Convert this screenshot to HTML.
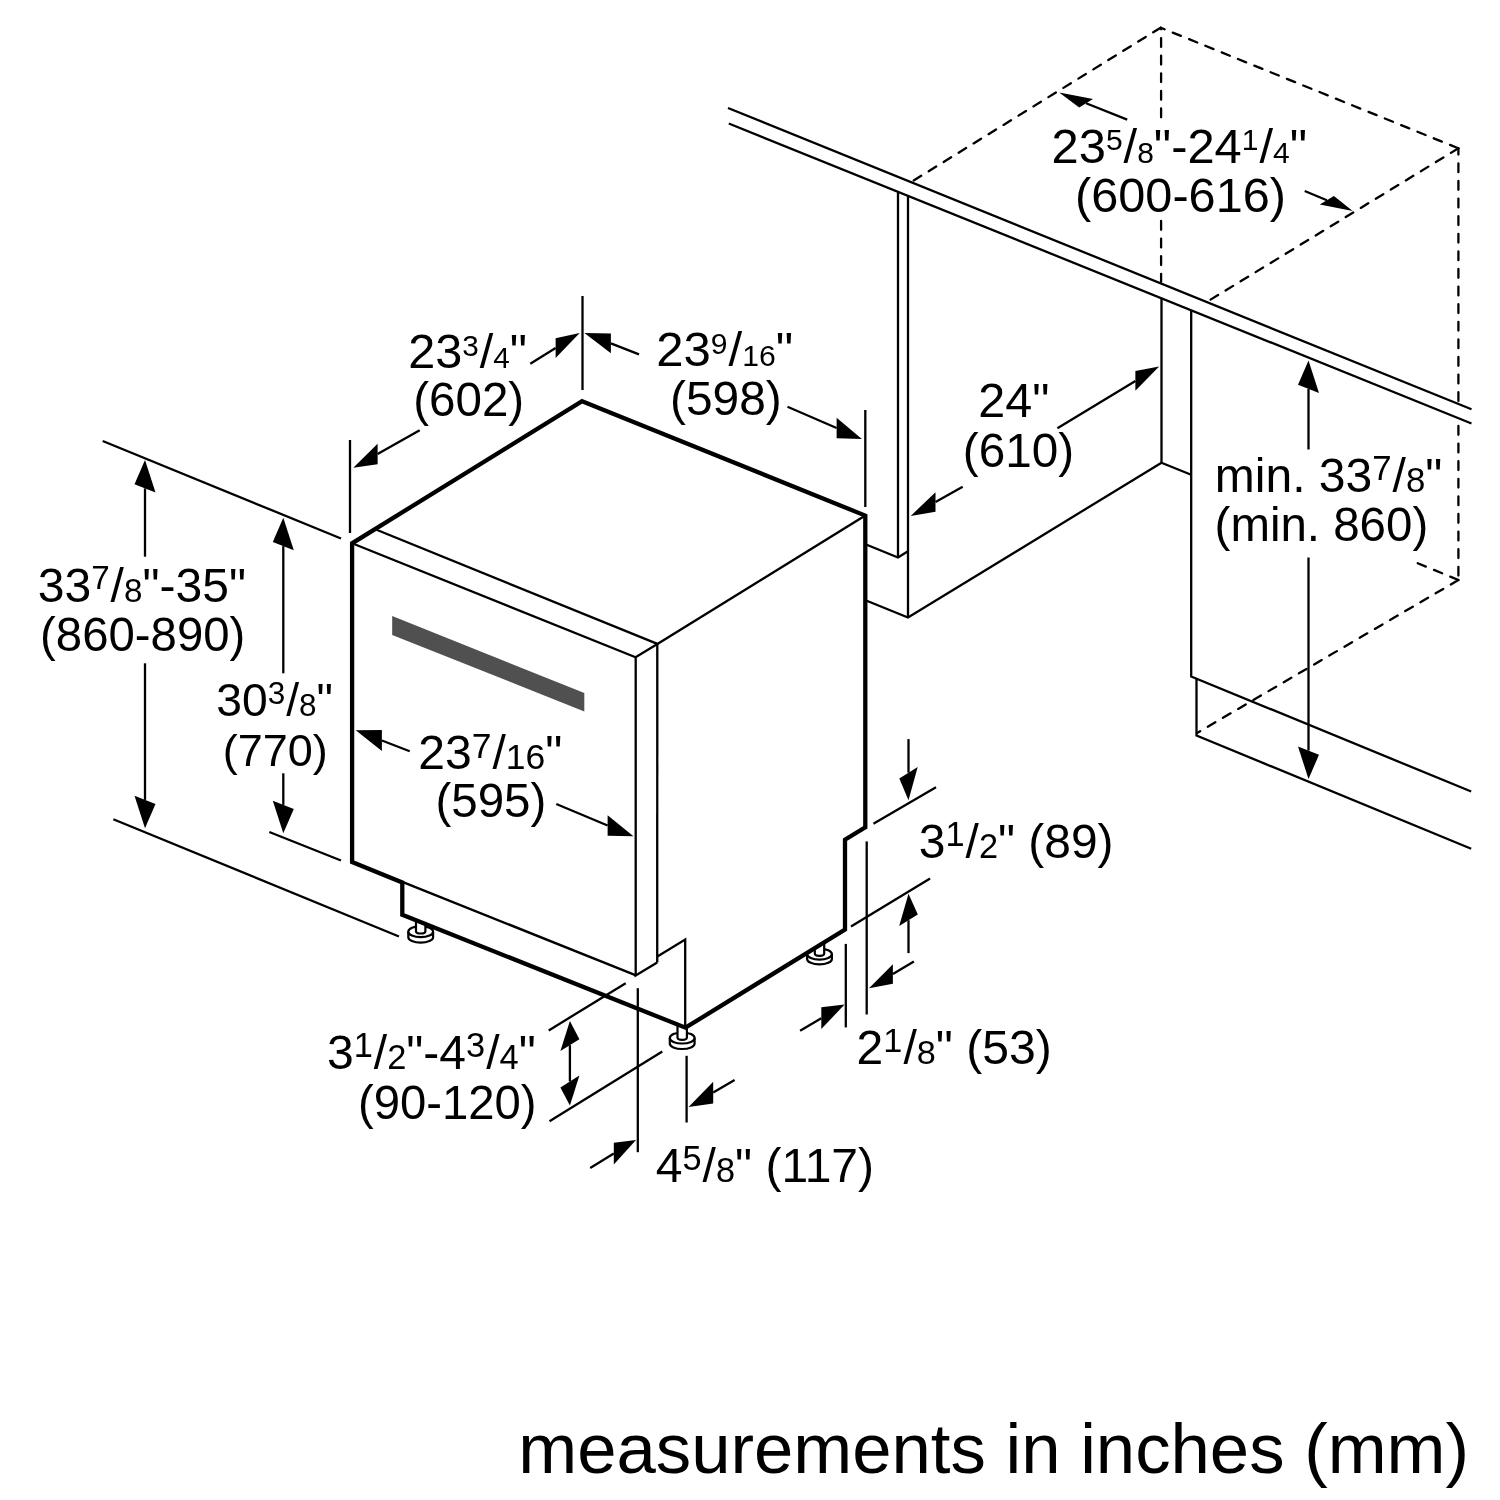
<!DOCTYPE html>
<html lang="en">
<head>
<meta charset="utf-8">
<title>Dishwasher installation dimensions</title>
<style>
html,body{margin:0;padding:0;background:#fff;}
body{width:1500px;height:1500px;overflow:hidden;font-family:"Liberation Sans",sans-serif;}
svg{display:block;will-change:transform;}
</style>
</head>
<body>
<svg width="1500" height="1500" viewBox="0 0 1500 1500">
<rect width="1500" height="1500" fill="#fff"/>
<g fill="none" stroke="#000">
<path d="M408.3 931.7 v5.5 a12.4 5.5 0 0 0 24.8 0 v-5.5" fill="#fff" stroke-width="2.2"/>
<ellipse cx="420.7" cy="931.7" rx="12.4" ry="5.5" fill="#fff" stroke-width="2.2"/>
<path d="M416.0 917.7 v13.5 a4.7 2.3 0 0 0 9.4 0 v-13.5 z" fill="#fff" stroke-width="2.2"/>
<path d="M669.8 1038.0 v5.5 a12.4 5.5 0 0 0 24.8 0 v-5.5" fill="#fff" stroke-width="2.2"/>
<ellipse cx="682.2" cy="1038.0" rx="12.4" ry="5.5" fill="#fff" stroke-width="2.2"/>
<path d="M677.5 1024.0 v13.5 a4.7 2.3 0 0 0 9.4 0 v-13.5 z" fill="#fff" stroke-width="2.2"/>
<path d="M807.1 954.1 v4.8 a12.4 5.5 0 0 0 24.8 0 v-4.8" fill="#fff" stroke-width="2.2"/>
<ellipse cx="819.5" cy="954.1" rx="12.4" ry="5.5" fill="#fff" stroke-width="2.2"/>
<path d="M814.8 940.1 v13.5 a4.7 2.3 0 0 0 9.4 0 v-13.5 z" fill="#fff" stroke-width="2.2"/>
<polygon points="352.1,543.3 582.1,401.2 865.3,515.6 865.3,827.3 845.0,839.7 845.0,929.5 685.5,1027.7 402.3,914.8 402.3,882.5 352.1,862.0" fill="#fff" stroke="none"/>
<path d="M1160.7 27.7 L912.0 181.5" stroke-width="2.30" stroke-linecap="round" stroke-dasharray="8.8 8.8" stroke-dashoffset="0.0"/>
<path d="M1160.7 27.7 L1458.4 148.3" stroke-width="2.30" stroke-linecap="round" stroke-dasharray="8.8 8.8" stroke-dashoffset="4.6"/>
<path d="M1458.4 148.3 L1208.3 301.0" stroke-width="2.30" stroke-linecap="round" stroke-dasharray="8.8 8.8" stroke-dashoffset="0.0"/>
<path d="M1161.1 27.9 L1161.1 118.0" stroke-width="2.30" stroke-linecap="round" stroke-dasharray="8.8 8.8" stroke-dashoffset="7.4"/>
<path d="M1161.1 221.0 L1161.1 282.0" stroke-width="2.30" stroke-linecap="round" stroke-dasharray="8.8 8.8" stroke-dashoffset="0.0"/>
<path d="M1458.4 148.3 L1458.4 402.0" stroke-width="2.30" stroke-linecap="round" stroke-dasharray="8.8 8.8" stroke-dashoffset="2.5"/>
<path d="M1458.4 426.0 L1458.4 580.0" stroke-width="2.30" stroke-linecap="round" stroke-dasharray="8.8 8.8" stroke-dashoffset="0.0"/>
<path d="M1458.4 580.0 L1197.0 733.0" stroke-width="2.30" stroke-linecap="round" stroke-dasharray="8.8 8.8" stroke-dashoffset="0.0"/>
<path d="M1458.4 580.0 L1416.5 562.7" stroke-width="2.30" stroke-linecap="round" stroke-dasharray="8.8 8.8" stroke-dashoffset="0.0"/>
<polygon points="728.0,108.0 1471.5,409.3 1471.5,423.5 728.8,123.5" fill="#fff" stroke="none"/>
<path d="M728.0 108.0 L1471.5 409.3" stroke-width="2.30" stroke-linecap="butt" stroke-linejoin="miter"/>
<path d="M728.8 123.5 L1471.5 423.5" stroke-width="2.30" stroke-linecap="butt" stroke-linejoin="miter"/>
<path d="M898.0 192.5 L898.0 557.5" stroke-width="2.30" stroke-linecap="butt" stroke-linejoin="miter"/>
<path d="M908.0 196.5 L908.0 617.5" stroke-width="2.30" stroke-linecap="butt" stroke-linejoin="miter"/>
<path d="M866.7 544.7 L898.0 557.5 L908.0 551.3" stroke-width="2.30" stroke-linecap="butt" stroke-linejoin="miter"/>
<path d="M866.7 600.7 L908.0 617.5 L1161.5 462.7" stroke-width="2.30" stroke-linecap="butt" stroke-linejoin="miter"/>
<path d="M1161.5 298.3 L1161.5 462.7 L1191.2 474.7" stroke-width="2.30" stroke-linecap="butt" stroke-linejoin="miter"/>
<path d="M1191.2 311.0 L1191.2 676.5 L1471.2 791.5" stroke-width="2.30" stroke-linecap="butt" stroke-linejoin="miter"/>
<path d="M1196.5 678.7 L1196.5 735.5 L1471.2 848.8" stroke-width="2.30" stroke-linecap="butt" stroke-linejoin="miter"/>
<path d="M582.1 401.2 L865.3 515.6 L865.3 827.3 L845.0 839.7 L845.0 929.5 L685.5 1027.7 L402.3 914.8 L402.3 882.5 L352.1 862.0 L352.1 543.3 Z" stroke-width="4.30" stroke-linejoin="miter" stroke-miterlimit="6"/>
<path d="M402.3 881.8 L636.0 975.4" stroke-width="2.40" stroke-linecap="butt" stroke-linejoin="miter"/>
<path d="M376.5 529.8 L657.4 643.9" stroke-width="2.30" stroke-linecap="butt" stroke-linejoin="miter"/>
<path d="M352.1 543.3 L635.6 657.2 L657.4 643.9" stroke-width="2.30" stroke-linecap="butt" stroke-linejoin="miter"/>
<path d="M657.4 643.9 L865.3 515.6" stroke-width="2.40" stroke-linecap="butt" stroke-linejoin="miter"/>
<path d="M635.7 657.2 L635.7 975.4 L657.2 962.5" stroke-width="2.30" stroke-linecap="butt" stroke-linejoin="miter"/>
<path d="M657.3 643.9 L657.2 962.5" stroke-width="2.30" stroke-linecap="butt" stroke-linejoin="miter"/>
<path d="M657.4 956.4 L685.2 939.6 L685.2 1027.0" stroke-width="2.30" stroke-linecap="butt" stroke-linejoin="miter"/>
<polygon points="392.2,616.1 584.3,693.1 584.3,711.5 392.2,634.9" fill="#505050" stroke="none"/>
<path d="M102.7 441.0 L341.0 538.5" stroke-width="2.30" stroke-linecap="butt" stroke-linejoin="miter"/>
<path d="M113.3 819.3 L399.0 936.5" stroke-width="2.30" stroke-linecap="butt" stroke-linejoin="miter"/>
<path d="M269.3 832.0 L341.0 860.5" stroke-width="2.30" stroke-linecap="butt" stroke-linejoin="miter"/>
<path d="M350.0 440.0 L350.0 533.0" stroke-width="2.30" stroke-linecap="butt" stroke-linejoin="miter"/>
<path d="M582.5 296.0 L582.5 390.0" stroke-width="2.30" stroke-linecap="butt" stroke-linejoin="miter"/>
<path d="M865.3 410.0 L865.3 507.0" stroke-width="2.30" stroke-linecap="butt" stroke-linejoin="miter"/>
<polygon points="145.0,460.0 155.5,492.6 134.5,484.2" fill="#000" stroke="none"/>
<path d="M145.0 556.7 L145.0 488.4" stroke-width="2.30" stroke-linecap="butt" stroke-linejoin="miter"/>
<polygon points="145.0,828.3 155.5,804.1 134.5,795.7" fill="#000" stroke="none"/>
<path d="M145.0 663.3 L145.0 799.9" stroke-width="2.30" stroke-linecap="butt" stroke-linejoin="miter"/>
<polygon points="283.3,517.7 293.8,550.3 272.8,541.9" fill="#000" stroke="none"/>
<path d="M283.3 673.3 L283.3 546.1" stroke-width="2.30" stroke-linecap="butt" stroke-linejoin="miter"/>
<polygon points="283.3,833.3 293.8,809.1 272.8,800.7" fill="#000" stroke="none"/>
<path d="M283.3 773.3 L283.3 804.9" stroke-width="2.30" stroke-linecap="butt" stroke-linejoin="miter"/>
<polygon points="1308.5,360.5 1319.0,393.1 1298.0,384.7" fill="#000" stroke="none"/>
<path d="M1308.5 449.5 L1308.5 388.9" stroke-width="2.30" stroke-linecap="butt" stroke-linejoin="miter"/>
<polygon points="1308.5,779.0 1319.0,754.8 1298.0,746.4" fill="#000" stroke="none"/>
<path d="M1308.5 557.5 L1308.5 750.6" stroke-width="2.30" stroke-linecap="butt" stroke-linejoin="miter"/>
<polygon points="579.7,333.1 555.6,357.9 555.6,338.3" fill="#000" stroke="none"/>
<path d="M530.3 363.7 L555.6 348.1" stroke-width="2.30" stroke-linecap="butt" stroke-linejoin="miter"/>
<polygon points="353.3,467.7 377.6,464.2 377.6,443.8" fill="#000" stroke="none"/>
<path d="M419.7 430.3 L377.6 454.0" stroke-width="2.30" stroke-linecap="butt" stroke-linejoin="miter"/>
<polygon points="584.4,333.1 610.9,353.2 610.9,333.6" fill="#000" stroke="none"/>
<path d="M639.0 354.4 L610.9 343.4" stroke-width="2.30" stroke-linecap="butt" stroke-linejoin="miter"/>
<polygon points="861.9,439.0 836.6,438.2 836.6,417.8" fill="#000" stroke="none"/>
<path d="M787.5 406.8 L836.6 428.0" stroke-width="2.30" stroke-linecap="butt" stroke-linejoin="miter"/>
<polygon points="1159.1,366.4 1135.4,390.7 1135.4,371.1" fill="#000" stroke="none"/>
<path d="M1057.4 428.3 L1135.4 380.9" stroke-width="2.30" stroke-linecap="butt" stroke-linejoin="miter"/>
<polygon points="910.7,515.9 935.5,511.8 935.5,492.2" fill="#000" stroke="none"/>
<path d="M962.7 486.8 L935.5 502.0" stroke-width="2.30" stroke-linecap="butt" stroke-linejoin="miter"/>
<polygon points="1059.2,92.4 1079.2,107.4 1093.0,98.9" fill="#000" stroke="none"/>
<path d="M1127.2 119.6 L1086.1 103.2" stroke-width="2.30" stroke-linecap="butt" stroke-linejoin="miter"/>
<polygon points="1352.7,211.1 1319.8,204.6 1333.9,195.9" fill="#000" stroke="none"/>
<path d="M1304.7 191.0 L1326.9 200.3" stroke-width="2.30" stroke-linecap="butt" stroke-linejoin="miter"/>
<polygon points="355.7,730.3 381.9,750.9 381.9,730.1" fill="#000" stroke="none"/>
<path d="M409.7 751.3 L381.9 740.5" stroke-width="2.30" stroke-linecap="butt" stroke-linejoin="miter"/>
<polygon points="633.5,836.3 607.6,835.7 607.6,815.3" fill="#000" stroke="none"/>
<path d="M556.3 804.0 L607.6 825.5" stroke-width="2.30" stroke-linecap="butt" stroke-linejoin="miter"/>
<path d="M625.7 983.3 L548.7 1030.4" stroke-width="2.30" stroke-linecap="butt" stroke-linejoin="miter"/>
<path d="M662.3 1051.4 L549.5 1121.2" stroke-width="2.30" stroke-linecap="butt" stroke-linejoin="miter"/>
<polygon points="569.9,1021.1 560.4,1051.0 579.4,1039.2" fill="#000" stroke="none"/>
<path d="M569.9 1063.0 L569.9 1045.1" stroke-width="2.30" stroke-linecap="butt" stroke-linejoin="miter"/>
<polygon points="569.9,1105.5 560.4,1087.4 579.4,1075.6" fill="#000" stroke="none"/>
<path d="M569.9 1063.0 L569.9 1081.5" stroke-width="2.30" stroke-linecap="butt" stroke-linejoin="miter"/>
<path d="M637.8 988.2 L637.8 1152.2" stroke-width="2.30" stroke-linecap="butt" stroke-linejoin="miter"/>
<path d="M686.6 1055.8 L686.6 1122.5" stroke-width="2.30" stroke-linecap="butt" stroke-linejoin="miter"/>
<polygon points="636.0,1140.1 613.8,1164.4 613.8,1142.8" fill="#000" stroke="none"/>
<path d="M590.2 1168.0 L613.8 1153.6" stroke-width="2.30" stroke-linecap="butt" stroke-linejoin="miter"/>
<polygon points="688.6,1107.1 713.2,1103.4 713.2,1081.8" fill="#000" stroke="none"/>
<path d="M734.6 1080.0 L713.2 1092.6" stroke-width="2.30" stroke-linecap="butt" stroke-linejoin="miter"/>
<path d="M873.4 823.8 L936.0 787.2" stroke-width="2.30" stroke-linecap="butt" stroke-linejoin="miter"/>
<path d="M851.0 926.4 L930.1 878.4" stroke-width="2.30" stroke-linecap="butt" stroke-linejoin="miter"/>
<polygon points="908.5,800.3 899.3,778.4 917.7,767.0" fill="#000" stroke="none"/>
<path d="M908.5 739.1 L908.5 772.7" stroke-width="2.30" stroke-linecap="butt" stroke-linejoin="miter"/>
<polygon points="908.5,893.7 899.2,925.9 917.8,914.5" fill="#000" stroke="none"/>
<path d="M908.5 953.1 L908.5 920.2" stroke-width="2.30" stroke-linecap="butt" stroke-linejoin="miter"/>
<path d="M845.8 943.9 L845.8 1027.4" stroke-width="2.30" stroke-linecap="butt" stroke-linejoin="miter"/>
<path d="M866.7 841.4 L866.7 1014.5" stroke-width="2.30" stroke-linecap="butt" stroke-linejoin="miter"/>
<polygon points="869.0,988.2 892.9,983.8 892.9,964.2" fill="#000" stroke="none"/>
<path d="M913.9 961.5 L892.9 974.0" stroke-width="2.30" stroke-linecap="butt" stroke-linejoin="miter"/>
<polygon points="844.6,1004.5 821.3,1029.1 821.3,1007.3" fill="#000" stroke="none"/>
<path d="M800.1 1030.7 L821.3 1018.2" stroke-width="2.30" stroke-linecap="butt" stroke-linejoin="miter"/>
</g>
<g fill="#000" font-family="'Liberation Sans', sans-serif">
<text transform="translate(1051.6 162.5) scale(1.0174 1)" font-size="48.0"><tspan>23</tspan><tspan font-size="29.5" dy="-12.5">5</tspan><tspan dy="12.5" dx="1.0">/</tspan><tspan font-size="29.5">8</tspan><tspan>&quot;-24</tspan><tspan font-size="29.5" dy="-12.5">1</tspan><tspan dy="12.5" dx="1.0">/</tspan><tspan font-size="29.5">4</tspan><tspan>&quot;</tspan></text>
<text transform="translate(1075.0 211.6) scale(1.0139 1)" font-size="48.0"><tspan>(600-616)</tspan></text>
<text transform="translate(37.7 601.6) scale(0.9950 1)" font-size="48.3"><tspan>33</tspan><tspan font-size="33.4" dy="-12.9">7</tspan><tspan dy="12.9" dx="1.0">/</tspan><tspan font-size="33.4">8</tspan><tspan>&quot;-35&quot;</tspan></text>
<text transform="translate(40.1 650.7) scale(0.9945 1)" font-size="47.6"><tspan>(860-890)</tspan></text>
<text transform="translate(408.3 367.9) scale(1.0058 1)" font-size="48.3"><tspan>23</tspan><tspan font-size="29.5" dy="-12.2">3</tspan><tspan dy="12.2" dx="1.0">/</tspan><tspan font-size="29.5">4</tspan><tspan>&quot;</tspan></text>
<text transform="translate(413.2 415.9) scale(0.9905 1)" font-size="48.0"><tspan>(602)</tspan></text>
<text transform="translate(656.2 365.7) scale(1.0220 1)" font-size="48.0"><tspan>23</tspan><tspan font-size="29.5" dy="-12.2">9</tspan><tspan dy="12.2" dx="1.0">/</tspan><tspan font-size="29.5">16</tspan><tspan>&quot;</tspan></text>
<text transform="translate(670.0 414.7) scale(0.9971 1)" font-size="48.0"><tspan>(598)</tspan></text>
<text transform="translate(978.3 417.2) scale(1.0107 1)" font-size="48.0"><tspan>24&quot;</tspan></text>
<text transform="translate(962.8 466.9) scale(0.9933 1)" font-size="48.0"><tspan>(610)</tspan></text>
<text transform="translate(1214.8 492.0) scale(1.0000 1)" font-size="48.0"><tspan>min. 33</tspan><tspan font-size="34.8" dy="-11.7">7</tspan><tspan dy="11.7" dx="1.0">/</tspan><tspan font-size="34.8">8</tspan><tspan>&quot;</tspan></text>
<text transform="translate(1214.6 540.8) scale(0.9993 1)" font-size="47.5"><tspan>(min. 860)</tspan></text>
<text transform="translate(216.3 716.3) scale(0.9996 1)" font-size="46.2"><tspan>30</tspan><tspan font-size="31.5" dy="-12.8">3</tspan><tspan dy="12.8" dx="1.0">/</tspan><tspan font-size="31.5">8</tspan><tspan>&quot;</tspan></text>
<text transform="translate(222.7 766.1) scale(0.9992 1)" font-size="45.0"><tspan>(770)</tspan></text>
<text transform="translate(418.3 769.3) scale(0.9998 1)" font-size="48.1"><tspan>23</tspan><tspan font-size="35.5" dy="-11.3">7</tspan><tspan dy="11.3" dx="1.0">/</tspan><tspan font-size="35.5">16</tspan><tspan>&quot;</tspan></text>
<text transform="translate(435.4 817.4) scale(1.0000 1)" font-size="47.5"><tspan>(595)</tspan></text>
<text transform="translate(327.0 1069.4) scale(1.0000 1)" font-size="48.0"><tspan>3</tspan><tspan font-size="34.4" dy="-12.0">1</tspan><tspan dy="12.0" dx="1.0">/</tspan><tspan font-size="34.4">2</tspan><tspan>&quot;-4</tspan><tspan font-size="34.4" dy="-12.0">3</tspan><tspan dy="12.0" dx="1.0">/</tspan><tspan font-size="34.4">4</tspan><tspan>&quot;</tspan></text>
<text transform="translate(357.9 1118.8) scale(0.9993 1)" font-size="47.3"><tspan>(90-120)</tspan></text>
<text transform="translate(918.8 857.8) scale(1.0032 1)" font-size="47.8"><tspan>3</tspan><tspan font-size="34.2" dy="-12.0">1</tspan><tspan dy="12.0" dx="1.0">/</tspan><tspan font-size="34.2">2</tspan><tspan>&quot;</tspan><tspan> (89)</tspan></text>
<text transform="translate(856.6 1063.8) scale(1.0086 1)" font-size="47.7"><tspan>2</tspan><tspan font-size="34.0" dy="-12.1">1</tspan><tspan dy="12.1" dx="1.0">/</tspan><tspan font-size="34.0">8</tspan><tspan>&quot;</tspan><tspan> (53)</tspan></text>
<text transform="translate(655.8 1181.9) scale(0.9951 1)" font-size="48.3"><tspan>4</tspan><tspan font-size="34.5" dy="-12.1">5</tspan><tspan dy="12.1" dx="1.0">/</tspan><tspan font-size="34.5">8</tspan><tspan>&quot;</tspan><tspan> (117)</tspan></text>
<text transform="translate(518.3 1472.5) scale(1.0015 1)" font-size="70.6"><tspan>measurements in inches (mm)</tspan></text>
</g>
</svg>
</body>
</html>
